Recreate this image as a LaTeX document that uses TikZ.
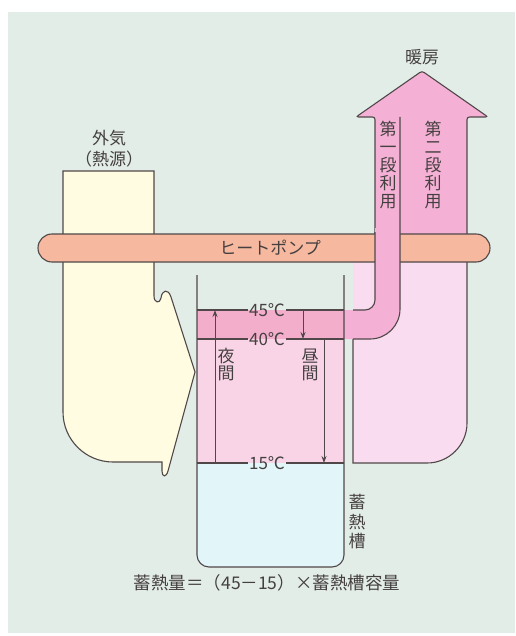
\documentclass[tikz,border=0pt]{standalone}
\usepackage{fontspec}
\setmainfont{Noto Sans CJK JP}
\usetikzlibrary{arrows.meta}
\definecolor{bgc}{HTML}{E3EDE7}
\definecolor{yel}{HTML}{FFFCE2}
\definecolor{salmon}{HTML}{F6B89E}
\definecolor{apink}{HTML}{F5B1D5}
\definecolor{lpink}{HTML}{FADCF0}
\definecolor{band}{HTML}{F3AECB}
\definecolor{tpink}{HTML}{F9D4E7}
\definecolor{cyanw}{HTML}{E2F5F8}
\definecolor{ink}{HTML}{504848}
\definecolor{txt}{HTML}{454040}
\begin{document}
\begin{tikzpicture}[x=1pt,y=-1pt,line width=1.1pt,draw=ink,
  lbl/.style={text=txt,font=\fontsize{17}{18}\selectfont,inner sep=1pt},
  vlbl/.style={lbl,align=center},
  arr/.style={-{Stealth[length=7pt,width=5pt]},line width=1pt,draw=ink}]
\useasboundingbox (0,0) rectangle (515,636);
\fill[white] (0,0) rectangle (515,636);
\fill[bgc] (8,12) rectangle (515,633);

% outside air (heat source)
\filldraw[fill=yel] (63,171) -- (154,171) -- (154,296)
  .. controls (154,303) and (160,304) .. (161,298)
  .. controls (162,290) and (168,288) .. (171,297)
  -- (195,372) -- (168,471)
  .. controls (166,478) and (162,477) .. (162,471)
  -- (162,462) -- (113,462)
  .. controls (85.4,462) and (63,439.6) .. (63,412) -- cycle;

% second stage lower region
\fill[lpink] (353,240) -- (467,240) -- (467,423)
  .. controls (467,445) and (449,463) .. (427,463) -- (353,463) -- cycle;
\draw (467,240) -- (467,423)
  .. controls (467,445) and (449,463) .. (427,463) -- (353,463) -- (353,310);

% big arrow
\fill[apink] (375,245) -- (375,117) -- (356,117) -- (422,71) -- (488,117) -- (467,117) -- (467,245) -- cycle;
\draw[rounded corners=2.5] (375,245) -- (375,117) -- (356,117) -- (422,71) -- (488,117) -- (467,117) -- (467,245);

% heat pump bar
\filldraw[fill=salmon,rounded corners=14] (38,234) rectangle (490,262);
\node[lbl] (hp) at (270,248) {ヒートポンプ};

% first stage tube
\fill[apink] (375,228) -- (375,300) .. controls (375,305.5) and (370.5,310) .. (365,310)
  -- (344,310) -- (344,339) -- (370,339)
  .. controls (386.6,339) and (400,325.6) .. (400,309) -- (400,228) -- cycle;
\draw (375,232) -- (375,300) .. controls (375,305.5) and (370.5,310) .. (365,310) -- (353,310);
\draw (400,117) -- (400,309) .. controls (400,325.6) and (386.6,339) .. (370,339) -- (353,339);

% tank fills
\fill[band] (197,310) rectangle (344,339);
\fill[tpink] (197,339) rectangle (344,463);
\fill[cyanw] (197,463) -- (197,555) .. controls (197,561.6) and (202.4,567) .. (209,567)
  -- (332,567) .. controls (338.6,567) and (344,561.6) .. (344,555) -- (344,463) -- cycle;
\draw (197,275) -- (197,555) .. controls (197,561.6) and (202.4,567) .. (209,567)
  -- (332,567) .. controls (338.6,567) and (344,561.6) .. (344,555) -- (344,275);

% level lines
\node[lbl] (t45) at (267,310) {45℃};
\node[lbl] (t40) at (267,339) {40℃};
\node[lbl] (t15) at (267,463) {15℃};
\coordinate (l45) at (197,310); \coordinate (r45) at (344,310);
\coordinate (l40) at (197,339); \coordinate (r40) at (344,339);
\coordinate (l15) at (197,463); \coordinate (r15) at (344,463);
\draw (l45) -- (t45.west); \draw (t45.east) -- (r45);
\draw (l40) -- (t40.west); \draw (t40.east) -- (r40);
\draw (l15) -- (t15.west); \draw (t15.east) -- (r15);

% arrows
\coordinate (n0) at (215,463); \coordinate (n1) at (215,310);
\coordinate (d0) at (303,310); \coordinate (d1) at (303,339);
\coordinate (e0) at (324,339); \coordinate (e1) at (324,463);
\draw[arr] (n0) -- (n1);
\draw[arr] (d0) -- (d1);
\draw[arr] (e0) -- (e1);

% labels
\node[lbl] (dan) at (422,57) {暖房};
\node[lbl] (gai) at (109,138) {外気};
\node[lbl] (netsu) at (109,159) {（熱源）};
\node[vlbl] (s1) at (388,165) {第\\一\\段\\利\\用};
\node[vlbl] (s2) at (433,165) {第\\二\\段\\利\\用};
\node[vlbl,font=\fontsize{17}{17}\selectfont] (ya) at (226,365) {夜\\間};
\node[vlbl,font=\fontsize{17}{17}\selectfont] (hi) at (310,365) {昼\\間};
\node[vlbl,font=\fontsize{17}{19.5}\selectfont] (tank) at (357,522) {蓄\\熱\\槽};
\node[lbl,font=\fontsize{17.5}{18}\selectfont] (form) at (267,583) {蓄熱量＝（45－15）×蓄熱槽容量};
\end{tikzpicture}
\end{document}
